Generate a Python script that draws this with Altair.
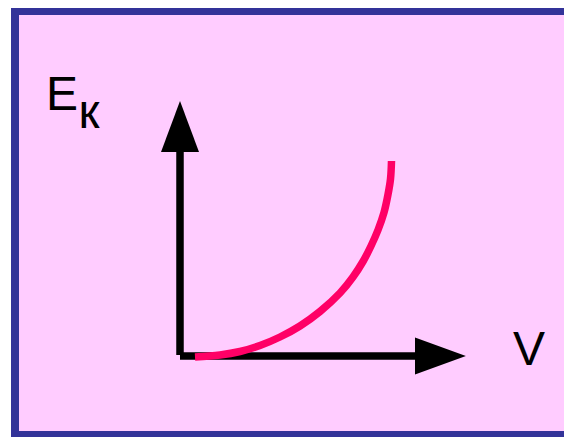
import altair as alt
import pandas as pd

# Kinetic energy curve (axis units)
curve_v = [1.5, 4.0, 6.0, 8.0, 10.0, 12.0, 14.0, 16.0, 17.3, 18.3, 19.1, 19.8, 20.4, 20.8, 21.05, 21.15]
curve_e = [-0.1, 0.1, 0.45, 1.05, 1.9, 3.0, 4.45, 6.3, 7.9, 9.45, 11.0, 12.6, 14.35, 16.15, 17.7, 19.5]
curve_i = list(range(len(curve_v)))

# Axis shafts
axis_seg = ["vertical", "horizontal"]
axis_x1 = [0.0, 0.0]
axis_y1 = [0.1, 0.0]
axis_x2 = [0.0, 23.5]
axis_y2 = [20.4, 0.0]

# Arrowhead bases
head_up_x = [0.0]
head_up_y = [20.4]
head_right_x = [23.5]
head_right_y = [0.0]

# Labels
label_text = ["E", "к", "V"]
label_x = [-13.4, -10.15, 33.3]
label_y = [24.6, 22.8, -0.9]

PAD_L, PAD_T, PAD_R, PAD_B = 11, 7, 0, 6
W, H = 545, 416
X_DOMAIN = [-16.1, -16.1 + W / 10]
Y_DOMAIN = [34.1 - H / 10, 34.1]

xs = alt.Scale(domain=X_DOMAIN, nice=False, zero=False)
ys = alt.Scale(domain=Y_DOMAIN, nice=False, zero=False)

curve_df = pd.DataFrame({"v": curve_v, "e": curve_e, "i": curve_i})
axis_df = pd.DataFrame({"seg": axis_seg, "x1": axis_x1, "y1": axis_y1, "x2": axis_x2, "y2": axis_y2})
up_df = pd.DataFrame({"x": head_up_x, "y": head_up_y})
right_df = pd.DataFrame({"x": head_right_x, "y": head_right_y})
label_df = pd.DataFrame({"t": label_text, "x": label_x, "y": label_y})
one = pd.DataFrame({"a": [0]})

BORDER = "#333399"


def border(x, x2, y, y2):
    return alt.Chart(one).mark_rule(color=BORDER, strokeWidth=8, strokeCap="butt").encode(
        x=alt.value(x), x2=alt.value(x2), y=alt.value(y), y2=alt.value(y2)
    )


borders = (
    border(-4, -4, -8, H + 10)
    + border(-8, W + 10, -4, -4)
    + border(-8, W + 10, H + 4, H + 4)
)

shafts = alt.Chart(axis_df).mark_rule(color="black", strokeWidth=7.5, strokeCap="butt").encode(
    x=alt.X("x1:Q", scale=xs, axis=None),
    y=alt.Y("y1:Q", scale=ys, axis=None),
    x2="x2:Q",
    y2="y2:Q",
)

head_up = alt.Chart(up_df).mark_point(
    shape="M-1,0L1,0L0,-2.68Z", size=1444, filled=True, color="black", opacity=1, strokeWidth=0
).encode(x=alt.X("x:Q", scale=xs, axis=None), y=alt.Y("y:Q", scale=ys, axis=None))

head_right = alt.Chart(right_df).mark_point(
    shape="M0,-1L0,1L2.75,0Z", size=1369, filled=True, color="black", opacity=1, strokeWidth=0
).encode(x=alt.X("x:Q", scale=xs, axis=None), y=alt.Y("y:Q", scale=ys, axis=None))

curve = alt.Chart(curve_df).mark_line(
    color="#FF0066", strokeWidth=7.5, interpolate="catmull-rom", strokeCap="butt"
).encode(
    x=alt.X("v:Q", scale=xs, axis=None),
    y=alt.Y("e:Q", scale=ys, axis=None),
    order="i:Q",
)

labels = alt.Chart(label_df).mark_text(
    font="Liberation Sans", fontSize=48, align="left", baseline="alphabetic", color="black"
).encode(x=alt.X("x:Q", scale=xs, axis=None), y=alt.Y("y:Q", scale=ys, axis=None), text="t:N")

chart = (
    alt.layer(borders, shafts, head_up, head_right, curve, labels)
    .properties(
        width=W,
        height=H,
        autosize=alt.AutoSizeParams(type="none"),
        padding={"left": PAD_L, "top": PAD_T, "right": PAD_R, "bottom": PAD_B},
    )
    .configure_view(fill="#FFCCFF", strokeWidth=0)
)

chart.save("out.html", embed_options={"renderer": "svg", "actions": False})
